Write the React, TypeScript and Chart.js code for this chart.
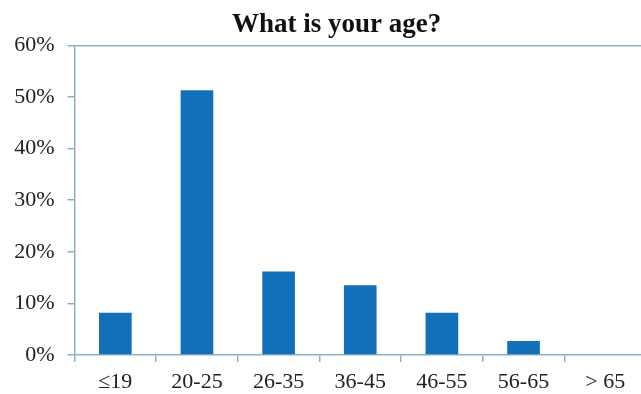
import React, { useEffect, useRef } from "react";
import { Chart, registerables } from "chart.js";

Chart.register(...registerables);

const categories = ["≤19", "20-25", "26-35", "36-45", "46-55", "56-65", "> 65"];
const values = [8.2, 51.3, 16.2, 13.5, 8.2, 2.7, 0];
const yTicks = [0, 10, 20, 30, 40, 50, 60];
const title = "What is your age?";

const AXIS = "#8fb1c2";
const BAR = "#1170b9";
const FONT = "'Liberation Serif', 'Times New Roman', serif";

export default function App() {
  const ref = useRef<HTMLCanvasElement>(null);

  useEffect(() => {
    if (!ref.current) return;
    const chart = new Chart(ref.current, {
      type: "bar",
      data: {
        labels: categories,
        datasets: [
          {
            data: values,
            backgroundColor: BAR,
            borderWidth: 0,
            barPercentage: 0.4,
            categoryPercentage: 1,
          },
        ],
      },
      options: {
        responsive: false,
        animation: false,
        layout: { padding: { left: 27, right: 2, top: 0, bottom: 0 } },
        plugins: {
          legend: { display: false },
          tooltip: { enabled: false },
          title: {
            display: true,
            text: title,
            color: "#111",
            font: { family: FONT, size: 27, weight: "bold" },
            padding: { top: 9, bottom: 4 },
          },
        },
        scales: {
          x: {
            offset: true,
            grid: {
              offset: true,
              color: "transparent",
              tickColor: AXIS,
              tickLength: 7,
              lineWidth: 1.5,
            },
            border: { color: AXIS, width: 1.5 },
            ticks: {
              color: "#222",
              font: { family: FONT, size: 22 },
              padding: 7,
              maxRotation: 0,
              autoSkip: false,
            },
            afterFit: (s: any) => {
              s.height = 39;
            },
          },
          y: {
            min: 0,
            max: 60,
            afterBuildTicks: (s: any) => {
              s.ticks = yTicks.map((v) => ({ value: v }));
            },
            grid: {
              color: (c: any) => (c.tick && c.tick.value === 60 ? AXIS : "transparent"),
              tickColor: AXIS,
              tickLength: 7,
              lineWidth: 1.5,
            },
            border: { color: AXIS, width: 1.5 },
            ticks: {
              color: "#222",
              font: { family: FONT, size: 22 },
              padding: 13,
              callback: (v: any) => v + "%",
            },
            afterFit: (s: any) => {
              s.width = 47.5;
              // let the tick labels extend into the left padding without being clipped
              s._computeLabelArea = () => undefined;
            },
          },
        },
      },
    });
    return () => chart.destroy();
  }, []);

  return (
    <div
      style={{
        position: "absolute",
        left: 0,
        top: 0,
        width: 641,
        height: 394,
        overflow: "hidden",
        background: "#fff",
      }}
    >
      <canvas ref={ref} width={648} height={394} style={{ display: "block" }} />
    </div>
  );
}
